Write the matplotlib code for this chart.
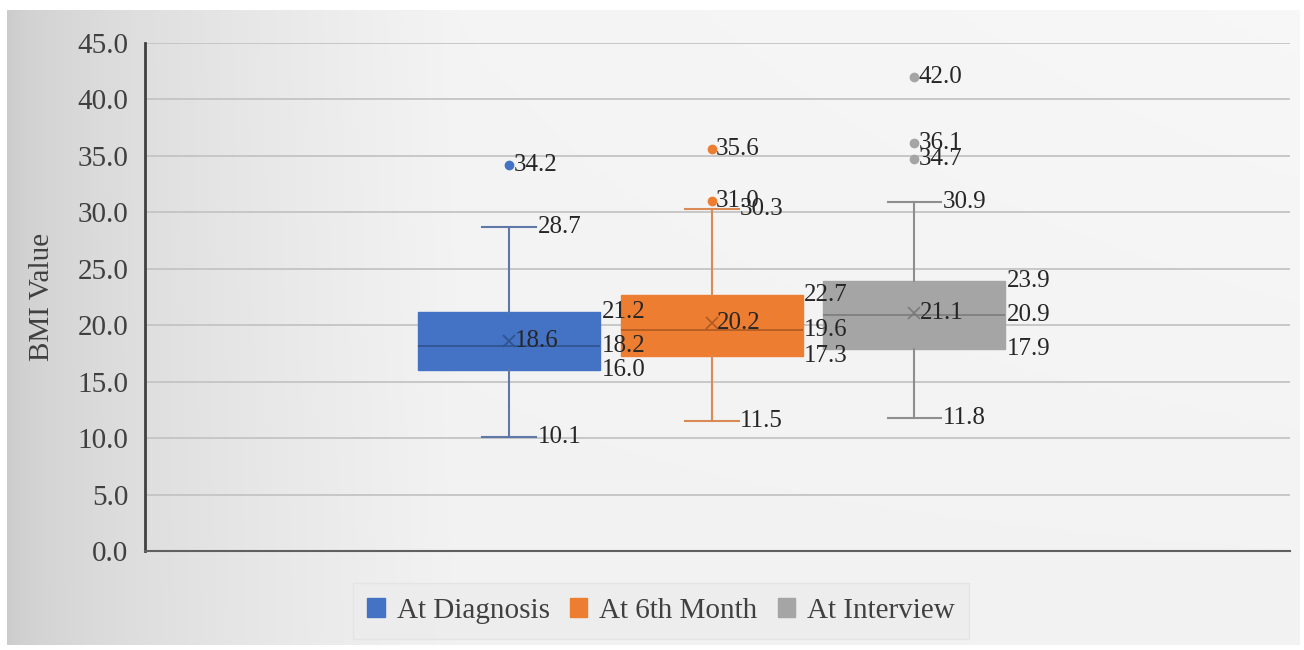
import matplotlib.pyplot as plt
import numpy as np
from matplotlib.patches import Patch

plt.rcParams['font.family'] = ['Liberation Serif', 'DejaVu Serif']

series = ['At Diagnosis', 'At 6th Month', 'At Interview']
mins = [10.1, 11.5, 11.8]
q1s = [16.0, 17.3, 17.9]
medians = [18.2, 19.6, 20.9]
q3s = [21.2, 22.7, 23.9]
maxs = [28.7, 30.3, 30.9]
means = [18.6, 20.2, 21.1]
outliers = [[34.2], [35.6, 31.0], [42.0, 36.1, 34.7]]

colors = ['#4472C4', '#ED7D31', '#A5A5A5']
dark = ['#2F528F', '#AE5A21', '#7B7B7B']
whisk = ['#5F78A8', '#D98A55', '#8E8E8E']

positions = [0.318, 0.495, 0.672]
box_w = 0.159
cap_w = 0.047

fig = plt.figure(figsize=(13.04, 6.5), dpi=100)

# chart area gradient background
bg = fig.add_axes([0, 0, 1, 1], zorder=-2)
bg.set_xlim(0, 1304)
bg.set_ylim(650, 0)
bg.axis('off')
gx = np.linspace(0, 1, 300)
gy = np.linspace(0, 1, 150)
X, Y = np.meshgrid(gx, gy)
val = 0.80 + 0.15 * np.clip(X / 0.35, 0, 1) ** 0.6 + 0.02 * (1 - Y) * X
img = np.dstack([val, val, val])
bg.imshow(img, extent=[7, 1300, 645, 10], aspect='auto', interpolation='bicubic')

ax = fig.add_axes([145 / 1304, 1 - 551 / 650, (1290 - 145) / 1304, (551 - 43) / 650])
ax.set_facecolor('none')

stats = []
for i in range(3):
    stats.append(dict(med=medians[i], q1=q1s[i], q3=q3s[i], whislo=mins[i],
                      whishi=maxs[i], mean=means[i], fliers=outliers[i], label=series[i]))

for i in range(3):
    ax.bxp([stats[i]], positions=[positions[i]], widths=box_w, capwidths=cap_w,
           showmeans=True, patch_artist=True, showfliers=True,
           boxprops=dict(facecolor=colors[i], edgecolor=colors[i], linewidth=1),
           medianprops=dict(color=dark[i], linewidth=1.2),
           whiskerprops=dict(color=whisk[i], linewidth=1.5),
           capprops=dict(color=whisk[i], linewidth=1.5),
           meanprops=dict(marker='x', markeredgecolor=dark[i], markersize=8, markeredgewidth=1.2),
           flierprops=dict(marker='o', markerfacecolor=colors[i], markeredgecolor=colors[i], markersize=6),
           zorder=3)

lab_kw = dict(textcoords='offset points', va='center', ha='left', fontsize=18, color='#262626', zorder=5)
for i in range(3):
    xr = positions[i] + box_w / 2
    xc = positions[i] + cap_w / 2
    for v in (q1s[i], medians[i], q3s[i]):
        ax.annotate(f'{v:.1f}', (xr, v), xytext=(1, 0), **lab_kw)
    for v in (mins[i], maxs[i]):
        ax.annotate(f'{v:.1f}', (xc, v), xytext=(1, 0), **lab_kw)
    ax.annotate(f'{means[i]:.1f}', (positions[i], means[i]), xytext=(4, 0), **lab_kw)
    for v in outliers[i]:
        ax.annotate(f'{v:.1f}', (positions[i], v), xytext=(3, 0), **lab_kw)

ax.set_xlim(0, 1)
ax.set_ylim(0, 45)
ax.set_yticks(np.arange(0, 46, 5))
ax.set_yticklabels([f'{t:.1f}' for t in np.arange(0, 46, 5)], fontsize=21, color='#404040')
ax.set_xticks([])
ax.grid(axis='y', color='#c4c4c4', linewidth=1.3, zorder=0)
ax.set_axisbelow(True)
for s in ['top', 'right']:
    ax.spines[s].set_visible(False)
ax.spines['left'].set_color('#404040')
ax.spines['left'].set_linewidth(2)
ax.spines['bottom'].set_color('#606060')
ax.spines['bottom'].set_linewidth(1.5)
ax.tick_params(axis='y', length=0, pad=12)
ax.set_ylabel('BMI Value', fontsize=21, color='#404040', labelpad=16)

handles = [Patch(facecolor=c, edgecolor=c) for c in colors]
leg = fig.legend(handles, series, loc='center', bbox_to_anchor=(661 / 1304, 1 - 611 / 650),
                 ncol=3, fontsize=21, frameon=True, fancybox=False, handlelength=0.6,
                 handleheight=0.6, handletextpad=0.4, columnspacing=0.7, borderpad=0.5)
leg.get_frame().set_facecolor('#ececec')
leg.get_frame().set_edgecolor('#e2e2e2')
for t in leg.get_texts():
    t.set_color('#404040')

fig.savefig('out.png', dpi=100)
